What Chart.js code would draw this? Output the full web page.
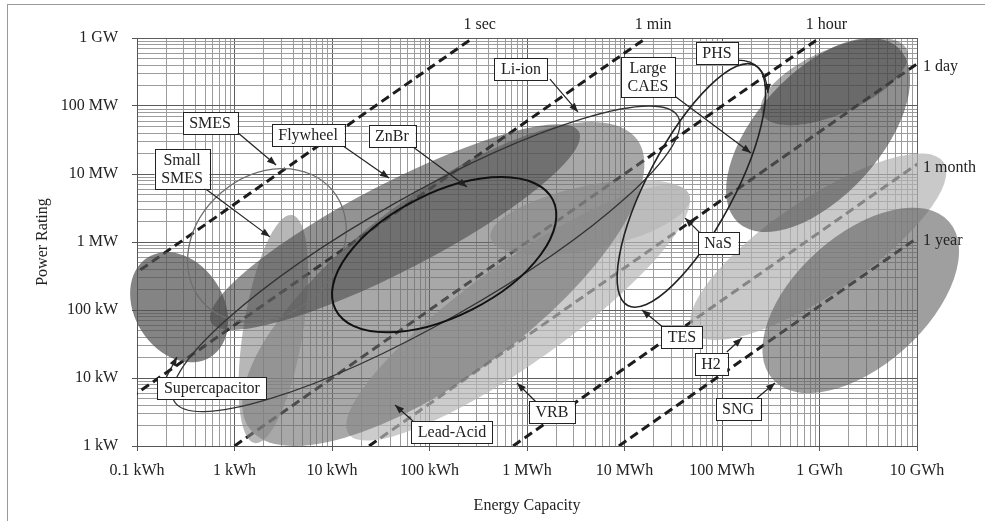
<!DOCTYPE html>
<html>
<head>
<meta charset="utf-8">
<script src="https://cdn.jsdelivr.net/npm/chart.js@4.4.1/dist/chart.umd.min.js"></script>
<style>
  html, body { margin: 0; padding: 0; background: #fff; }
  #wrap { position: relative; width: 985px; height: 521px; overflow: hidden; }
  #frame { position: absolute; left: 7px; top: 4px; width: 1000px; height: 540px; border: 1px solid #9a9a9a; }
  canvas { position: absolute; left: 0; top: 0; }
</style>
</head>
<body>
<div id="wrap"><div id="frame"></div><canvas id="storage" width="985" height="521"></canvas></div>
<script>
// axes (energy in kWh, power in kW)
const energyTicks = [0.1, 1, 10, 100, 1e3, 1e4, 1e5, 1e6, 1e7];
const energyTickLabels = ["0.1 kWh", "1 kWh", "10 kWh", "100 kWh", "1 MWh", "10 MWh", "100 MWh", "1 GWh", "10 GWh"];
const powerTicks = [1, 10, 100, 1e3, 1e4, 1e5, 1e6];
const powerTickLabels = ["1 kW", "10 kW", "100 kW", "1 MW", "10 MW", "100 MW", "1 GW"];

// discharge time lines, in hours
const durationHours = [1 / 3600, 1 / 60, 1, 24, 720, 8760];
const durationLabels = ["1 sec", "1 min", "1 hour", "1 day", "1 month", "1 year"];

// technology areas, drawn back to front
const technologies = ["H2", "VRB", "NaS", "Lead-Acid", "Small SMES", "Supercapacitor", "Flywheel",
    "Large CAES", "PHS", "SNG", "SMES", "Li-ion", "ZnBr", "TES"];
const energyMin = [47000, 14, 420, 1.2, 1.1, 0.085, 0.56, 110000, 250000, 260000, 0.33, 0.23, 10, 8400];
const energyMax = [2.0e7, 47000, 47000, 16000, 5.7, 0.86, 3500, 8.5e6, 8.1e6, 2.7e7, 14, 37000, 2000, 280000];
const powerMin = [36, 1.2, 650, 1.0, 1.1, 17, 51, 1400, 52000, 6, 66, 3.2, 47, 110];
const powerMax = [20000, 6900, 8200, 58000, 2500, 710, 54000, 1e6, 1e6, 3200, 12000, 1e5, 9000, 420000];
// tilt of each area on the log-log plane (-1..1)
const tilt = [0.8, 0.88, 0.5, 0.74, 0.5, -0.25, 0.88, 0.57, 0.6, 0.53, 0.2, 0.88, 0.51, 0.76];

const techStyle = [
    { fill: "rgba(178,178,178,0.7)" },
    { fill: "rgba(182,182,182,0.7)" },
    { fill: "rgba(178,178,178,0.65)" },
    { fill: "rgba(110,110,110,0.6)" },
    { fill: "rgba(135,135,135,0.6)" },
    { fill: "rgba(85,85,85,0.72)" },
    { fill: "rgba(75,75,75,0.6)" },
    { fill: "rgba(90,90,90,0.68)" },
    { fill: "rgba(55,55,55,0.42)" },
    { fill: "rgba(100,100,100,0.62)" },
    { stroke: "#6e6e6e", width: 1.3 },
    { stroke: "#333", width: 1.3 },
    { stroke: "#111", width: 2 },
    { stroke: "#222", width: 1.6 }
];

// label boxes: [energy, power] of box centre, arrow start, arrow tip
const callouts = [
    { text: ["SMES"], at: [0.561, 56200], from: [1.09, 40100], to: [2.67, 13600] },
    { text: ["Small", "SMES"], at: [0.29, 11900], from: [0.475, 6440], to: [2.31, 1190] },
    { text: ["Flywheel"], at: [5.68, 37500], from: [13, 25800], to: [38.5, 8730] },
    { text: ["ZnBr"], at: [41.2, 36200], from: [67.8, 24900], to: [243, 6440] },
    { text: ["Li-ion"], at: [867, 350000], from: [1720, 249000], to: [3330, 81700] },
    { text: ["Large", "CAES"], at: [17400, 267000], from: [33700, 136000], to: [198000, 20400] },
    { text: ["PHS"], at: [88900, 601000], from: [143000, 474000], bend: [282000, 474000], to: [296000, 155000] },
    { text: ["NaS"], at: [91000, 966], from: [62400, 1270], to: [41800, 2250] },
    { text: ["TES"], at: [38900, 40.1], from: [25400, 54.3], to: [15100, 100] },
    { text: ["H2"], at: [77100, 16.1], from: [112000, 24.1], to: [160000, 38.7] },
    { text: ["SNG"], at: [146000, 3.5], from: [229000, 5.08], to: [350000, 8.43] },
    { text: ["VRB"], at: [1800, 3.16], from: [1270, 4.29], to: [789, 8.43] },
    { text: ["Lead-Acid"], at: [170, 1.61], from: [69.3, 2.25], to: [44.3, 4.01] },
    { text: ["Supercapacitor"], at: [0.587, 7.13], from: [0.198, 10], to: [0.257, 20.4] }
];

const serif = '"Liberation Serif", "Times New Roman", serif';
const ink = "#222";

function withMinors(decades) {
    const out = [];
    decades.forEach((d, i) => {
        if (i === decades.length - 1) { out.push({ value: d }); return; }
        for (let k = 1; k < 10; k++) out.push({ value: d * k });
    });
    return out;
}
function isDecade(v) {
    const l = Math.log10(v);
    return Math.abs(l - Math.round(l)) < 1e-6;
}
function labelFor(ticks, labels, v) {
    const i = ticks.findIndex(t => Math.abs(Math.log10(t) - Math.log10(v)) < 1e-6);
    return i >= 0 ? labels[i] : "";
}

function arrowHead(ctx, fx, fy, tx, ty) {
    const ang = Math.atan2(ty - fy, tx - fx);
    ctx.beginPath();
    ctx.moveTo(tx, ty);
    ctx.lineTo(tx - 9 * Math.cos(ang) + 3.5 * Math.sin(ang), ty - 9 * Math.sin(ang) - 3.5 * Math.cos(ang));
    ctx.lineTo(tx - 9 * Math.cos(ang) - 3.5 * Math.sin(ang), ty - 9 * Math.sin(ang) + 3.5 * Math.cos(ang));
    ctx.closePath();
    ctx.fill();
}

const areaPlugin = {
    id: "areas",
    afterDatasetsDraw(chart) {
        const { ctx, chartArea, scales: { x, y } } = chart;
        ctx.save();

        // technology ellipses
        technologies.forEach((name, i) => {
            const x1 = x.getPixelForValue(energyMin[i]), x2 = x.getPixelForValue(energyMax[i]);
            const y1 = y.getPixelForValue(powerMin[i]), y2 = y.getPixelForValue(powerMax[i]);
            const cx = (x1 + x2) / 2, cy = (y1 + y2) / 2;
            const hw = (x2 - x1) / 2, hh = (y1 - y2) / 2;
            const sxx = hw * hw, syy = hh * hh, sxy = -tilt[i] * hw * hh;
            const d = Math.sqrt((sxx - syy) * (sxx - syy) / 4 + sxy * sxy);
            const a = Math.sqrt((sxx + syy) / 2 + d);
            const b = Math.sqrt(Math.max((sxx + syy) / 2 - d, 0.5));
            const ang = 0.5 * Math.atan2(2 * sxy, sxx - syy);
            ctx.beginPath();
            ctx.ellipse(cx, cy, a, b, ang, 0, Math.PI * 2);
            const st = techStyle[i];
            if (st.fill) { ctx.fillStyle = st.fill; ctx.fill(); }
            if (st.stroke) { ctx.strokeStyle = st.stroke; ctx.lineWidth = st.width; ctx.stroke(); }
        });

        // callouts
        ctx.font = "16px " + serif;
        ctx.textAlign = "center";
        ctx.textBaseline = "middle";
        callouts.forEach(c => {
            const px = p => [x.getPixelForValue(p[0]), y.getPixelForValue(p[1])];
            const [fx, fy] = px(c.from), [tx, ty] = px(c.to);
            ctx.strokeStyle = ink;
            ctx.fillStyle = ink;
            ctx.lineWidth = 1.2;
            ctx.beginPath();
            ctx.moveTo(fx, fy);
            if (c.bend) {
                const [bx, by] = px(c.bend);
                ctx.quadraticCurveTo(bx, by, tx, ty);
                ctx.stroke();
                arrowHead(ctx, bx, by, tx, ty);
            } else {
                ctx.lineTo(tx, ty);
                ctx.stroke();
                arrowHead(ctx, fx, fy, tx, ty);
            }
            const [ax, ay] = px(c.at);
            const w = Math.max(...c.text.map(t => ctx.measureText(t).width)) + 13;
            const h = c.text.length * 18 + 4;
            ctx.fillStyle = "#fff";
            ctx.fillRect(ax - w / 2, ay - h / 2, w, h);
            ctx.lineWidth = 1;
            ctx.strokeStyle = ink;
            ctx.strokeRect(Math.round(ax - w / 2) + 0.5, Math.round(ay - h / 2) + 0.5, Math.round(w), Math.round(h));
            ctx.fillStyle = ink;
            c.text.forEach((t, k) => {
                ctx.fillText(t, ax, ay - h / 2 + 2 + 9 + k * 18 + 1);
            });
        });

        // discharge time labels
        const pTop = powerTicks[powerTicks.length - 1];
        const eRight = energyTicks[energyTicks.length - 1];
        durationHours.forEach((hrs, i) => {
            const xe = x.getPixelForValue(pTop * hrs);
            ctx.fillStyle = ink;
            if (xe <= chartArea.right + 1) {
                ctx.textAlign = "center";
                ctx.fillText(durationLabels[i], xe + 7, chartArea.top - 13);
            } else {
                ctx.textAlign = "left";
                ctx.fillText(durationLabels[i], chartArea.right + 6, y.getPixelForValue(eRight / hrs) + 3);
            }
        });
        ctx.restore();
    }
};

const tickFont = { family: serif, size: 16 };
const gridColor = c => (c.tick && isDecade(c.tick.value)) ? "#5c5c5c" : "#9c9c9c";
const tickColor = c => (c.tick && isDecade(c.tick.value)) ? "#555" : "rgba(0,0,0,0)";

new Chart(document.getElementById("storage"), {
    type: "scatter",
    data: {
        datasets: durationHours.map((hrs, i) => ({
            label: durationLabels[i],
            data: [
                { x: powerTicks[0] * hrs, y: powerTicks[0] },
                { x: powerTicks[powerTicks.length - 1] * hrs, y: powerTicks[powerTicks.length - 1] }
            ],
            showLine: true,
            borderColor: "#1c1c1c",
            borderWidth: 3,
            borderDash: [9, 5],
            pointRadius: 0,
            fill: false
        }))
    },
    options: {
        responsive: false,
        animation: false,
        devicePixelRatio: 1,
        layout: { padding: { top: 38, right: 68, left: 0, bottom: 0 } },
        plugins: { legend: { display: false }, tooltip: { enabled: false } },
        scales: {
            x: {
                type: "logarithmic",
                min: energyTicks[0],
                max: energyTicks[energyTicks.length - 1],
                afterBuildTicks: s => { s.ticks = withMinors(energyTicks); },
                afterFit: s => { s.height = 75; },
                ticks: {
                    autoSkip: false, maxRotation: 0, padding: 10, font: tickFont, color: ink,
                    callback: v => labelFor(energyTicks, energyTickLabels, v)
                },
                grid: { color: gridColor, lineWidth: 1, tickLength: 5, tickColor: tickColor },
                border: { color: "#555" },
                title: { display: true, text: "Energy Capacity", font: tickFont, color: ink, padding: { top: 0, bottom: 6 } }
            },
            y: {
                type: "logarithmic",
                min: powerTicks[0],
                max: powerTicks[powerTicks.length - 1],
                afterBuildTicks: s => { s.ticks = withMinors(powerTicks); },
                afterFit: s => { s.width = 137; },
                ticks: {
                    autoSkip: false, padding: 14, font: tickFont, color: ink,
                    callback: v => labelFor(powerTicks, powerTickLabels, v)
                },
                grid: { color: gridColor, lineWidth: 1, tickLength: 5, tickColor: tickColor },
                border: { color: "#555" },
                title: { display: true, text: "Power Rating", font: tickFont, color: ink, padding: { top: 33, bottom: 0 } }
            }
        }
    },
    plugins: [areaPlugin]
});
</script>
</body>
</html>
